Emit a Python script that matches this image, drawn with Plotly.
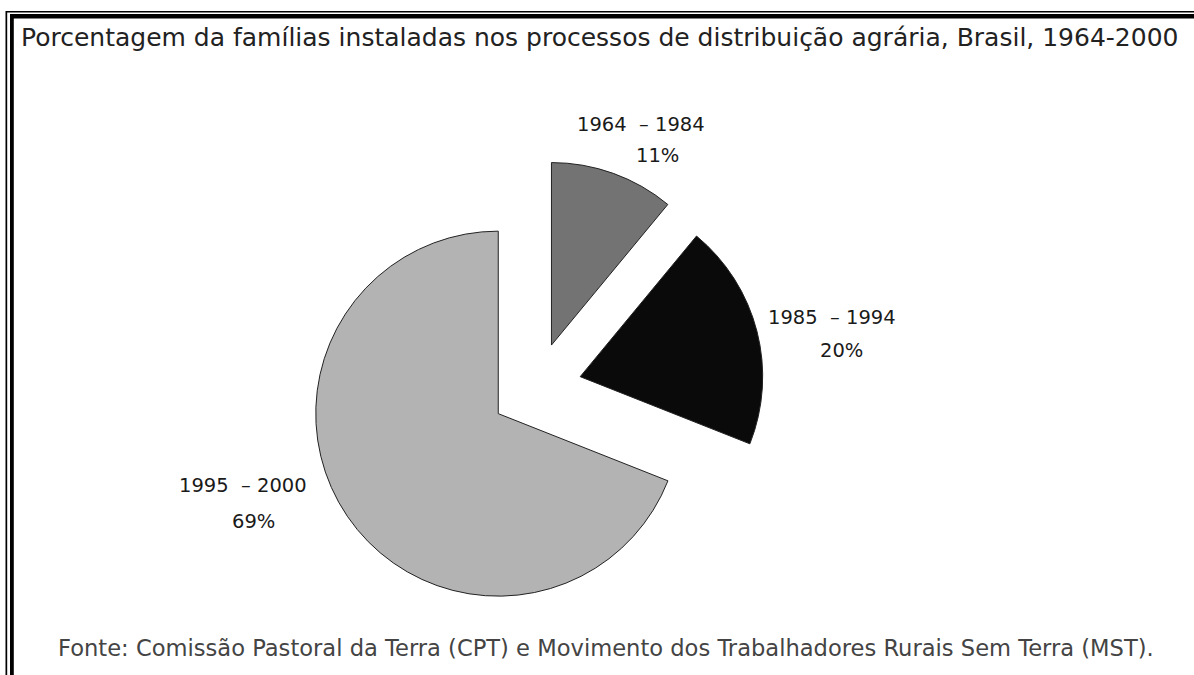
import plotly.graph_objects as go

# ---- data ----
periods = ["1964 \u00a0\u2013 1984", "1985 \u00a0\u2013 1994", "1995 \u00a0\u2013 2000"]
shares = [11, 20, 69]
colors = ["#737373", "#0a0a0a", "#b3b3b3"]
pulls = [0.25, 0.25, 0.25]
pct_labels = [f"{v}%" for v in shares]

title_text = "Porcentagem da famílias instaladas nos processos de distribuição agrária, Brasil, 1964-2000"
source_text = "Fonte: Comissão Pastoral da Terra (CPT) e Movimento dos Trabalhadores Rurais Sem Terra (MST)."

W, H = 1194, 675
FONT = "DejaVu Sans, Verdana, sans-serif"

# pie box (pixels) -> paper domain
cx, cy, r = 536, 388, 182.5
half = r * (1 + max(pulls))
dom_x = [(cx - half) / W, (cx + half) / W]
dom_y = [(H - cy - half) / H, (H - cy + half) / H]

fig = go.Figure(go.Pie(
    labels=periods,
    values=shares,
    sort=False,
    direction="clockwise",
    rotation=0,
    pull=pulls,
    marker=dict(colors=colors, line=dict(color="#222222", width=1)),
    textinfo="none",
    hoverinfo="label+percent",
    showlegend=False,
    domain=dict(x=dom_x, y=dom_y),
))

# label positions (pixels): year line and percentage line
label_pos = [((641, 124), (657, 156)), ((832, 317), (841, 350)), ((243, 485), (253, 521))]
lab_font = dict(family=FONT, size=19.5, color="#1a1a1a")
for per, pct, ((x1, y1), (x2, y2)) in zip(periods, pct_labels, label_pos):
    fig.add_annotation(x=x1 / W, y=1 - y1 / H, xref="paper", yref="paper", text=per,
                       showarrow=False, font=lab_font, xanchor="center", yanchor="middle")
    fig.add_annotation(x=x2 / W, y=1 - y2 / H, xref="paper", yref="paper", text=pct,
                       showarrow=False, font=lab_font, xanchor="center", yanchor="middle")

# title and source
fig.add_annotation(x=19 / W, y=1 - 38 / H, xref="paper", yref="paper", text=title_text,
                   showarrow=False, xanchor="left", yanchor="middle",
                   font=dict(family=FONT, size=25, color="#222222"))
fig.add_annotation(x=56 / W, y=1 - 648 / H, xref="paper", yref="paper", text=source_text,
                   showarrow=False, xanchor="left", yanchor="middle",
                   font=dict(family=FONT, size=22.6, color="#444444"))

# frame lines (top and left, double)
def px_rect(x0, y0, x1, y1):
    return dict(type="rect", xref="paper", yref="paper",
                x0=x0 / W, x1=x1 / W, y0=1 - y0 / H, y1=1 - y1 / H,
                fillcolor="black", line=dict(width=0), layer="above")

shapes = [
    px_rect(6, 11, W, 12.6),   # thin top
    px_rect(10, 14, W, 18.5),  # thick top
    px_rect(5.5, 11, 7.2, H),  # thin left
    px_rect(10, 14, 13.8, H),  # thick left
]

fig.update_layout(
    width=W, height=H,
    margin=dict(l=0, r=0, t=0, b=0),
    paper_bgcolor="white", plot_bgcolor="white",
    shapes=shapes,
)

fig.write_html("out.html", config={"displayModeBar": False},
               post_script="document.body.style.margin='0';")
